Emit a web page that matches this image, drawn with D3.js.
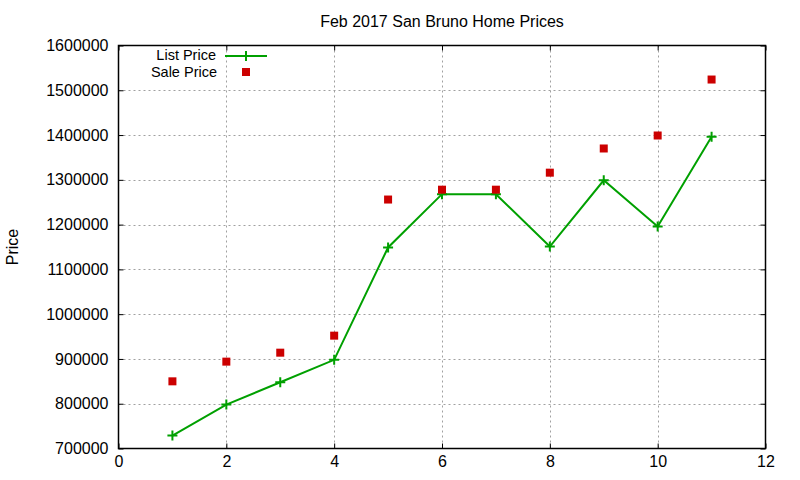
<!DOCTYPE html>
<html><head><meta charset="utf-8">
<script src="https://cdn.jsdelivr.net/npm/d3@7"></script>
<style>body{margin:0;background:#fff}svg{display:block}text{font-family:"Liberation Sans",Arial,sans-serif;fill:#000}</style>
</head><body><svg id="c" width="800" height="480"></svg>
<script>
const months = [1,2,3,4,5,6,7,8,9,10,11];
const listPrice = [729000,798000,848000,898000,1149000,1268000,1268000,1151000,1299000,1196000,1396000];
const salePrice = [850000,894000,914000,952000,1256000,1278000,1278000,1316000,1370000,1399000,1524000];
const xTicks = [0,2,4,6,8,10,12];
const yTicks = [700000,800000,900000,1000000,1100000,1200000,1300000,1400000,1500000,1600000];
const title = "Feb 2017 San Bruno Home Prices";
const yLabel = "Price";
const seriesNames = ["List Price","Sale Price"];

const W=800,H=480, L=118.5, R=765.5, T=45.5, B=448.5;
const green="#00a000", red="#cc0000";
const svg=d3.select("#c");
const x=d3.scaleLinear().domain([0,12]).range([L,R]);
const y=d3.scaleLinear().domain([700000,1600000]).range([B,T]);

// grid
const g=svg.append("g");
g.selectAll(".gx").data(xTicks.filter(d=>d>0&&d<12)).enter().append("line")
 .attr("x1",d=>Math.round(x(d))+0.5).attr("x2",d=>Math.round(x(d))+0.5).attr("y1",T).attr("y2",B)
 .attr("stroke","#a0a0a0").attr("stroke-width",1).attr("stroke-dasharray","2,3");
g.selectAll(".gy").data(yTicks.filter(d=>d>700000&&d<1600000)).enter().append("line")
 .attr("y1",d=>Math.round(y(d))+0.5).attr("y2",d=>Math.round(y(d))+0.5).attr("x1",L).attr("x2",R)
 .attr("stroke","#a0a0a0").attr("stroke-width",1).attr("stroke-dasharray","2,3");

// axes with inward ticks
const ax=svg.append("g").attr("transform",`translate(0,${B})`)
 .call(d3.axisBottom(x).tickValues(xTicks).tickSize(-5).tickPadding(7).tickFormat(d3.format("d")));
const axTop=svg.append("g").attr("transform",`translate(0,${T})`)
 .call(d3.axisTop(x).tickValues(xTicks).tickSize(-5).tickFormat(""));
const ay=svg.append("g").attr("transform",`translate(${L},0)`)
 .call(d3.axisLeft(y).tickValues(yTicks).tickSize(-5).tickPadding(10).tickFormat(d3.format("d")));
const ayR=svg.append("g").attr("transform",`translate(${R},0)`)
 .call(d3.axisRight(y).tickValues(yTicks).tickSize(-5).tickFormat(""));
[ax,axTop,ay,ayR].forEach(a=>{a.select(".domain").remove();a.selectAll("line").attr("stroke","#000");
 a.selectAll("text").attr("font-size",16).attr("font-family","Liberation Sans, Arial, sans-serif").attr("fill","#000");});
ay.selectAll("text").attr("x",-10);
ax.selectAll("text").attr("y",7).attr("dy","0.71em");

// frame
svg.append("rect").attr("x",L).attr("y",T).attr("width",R-L).attr("height",B-T)
 .attr("fill","none").attr("stroke","#000").attr("stroke-width",1.5);

// title & label
svg.append("text").attr("x",(L+R)/2).attr("y",27).attr("text-anchor","middle").attr("font-size",16).text(title);
svg.append("text").attr("transform",`translate(18,${(T+B)/2}) rotate(-90)`).attr("text-anchor","middle").attr("font-size",16).text(yLabel);

// list line
const line=d3.line().x((d,i)=>x(months[i])).y(d=>y(d));
svg.append("path").datum(listPrice).attr("d",line).attr("fill","none").attr("stroke",green).attr("stroke-width",2);
const plus=(sel,cx,cy)=>{sel.append("path").attr("d",`M${cx-5},${cy}H${cx+5}M${cx},${cy-5}V${cy+5}`).attr("stroke",green).attr("stroke-width",2);};
listPrice.forEach((v,i)=>plus(svg,x(months[i]),y(v)));
// sale squares
svg.selectAll(".sq").data(salePrice).enter().append("rect")
 .attr("x",(d,i)=>x(months[i])-4).attr("y",d=>y(d)-4).attr("width",8).attr("height",8).attr("fill",red);

// legend
svg.append("text").attr("x",216).attr("y",60).attr("text-anchor","end").attr("font-size",14.5).text(seriesNames[0]);
svg.append("line").attr("x1",225).attr("x2",267).attr("y1",56).attr("y2",56).attr("stroke",green).attr("stroke-width",2);
plus(svg,246,56);
svg.append("text").attr("x",217).attr("y",77).attr("text-anchor","end").attr("font-size",14.5).text(seriesNames[1]);
svg.append("rect").attr("x",242).attr("y",68).attr("width",8).attr("height",8).attr("fill",red);
</script></body></html>
